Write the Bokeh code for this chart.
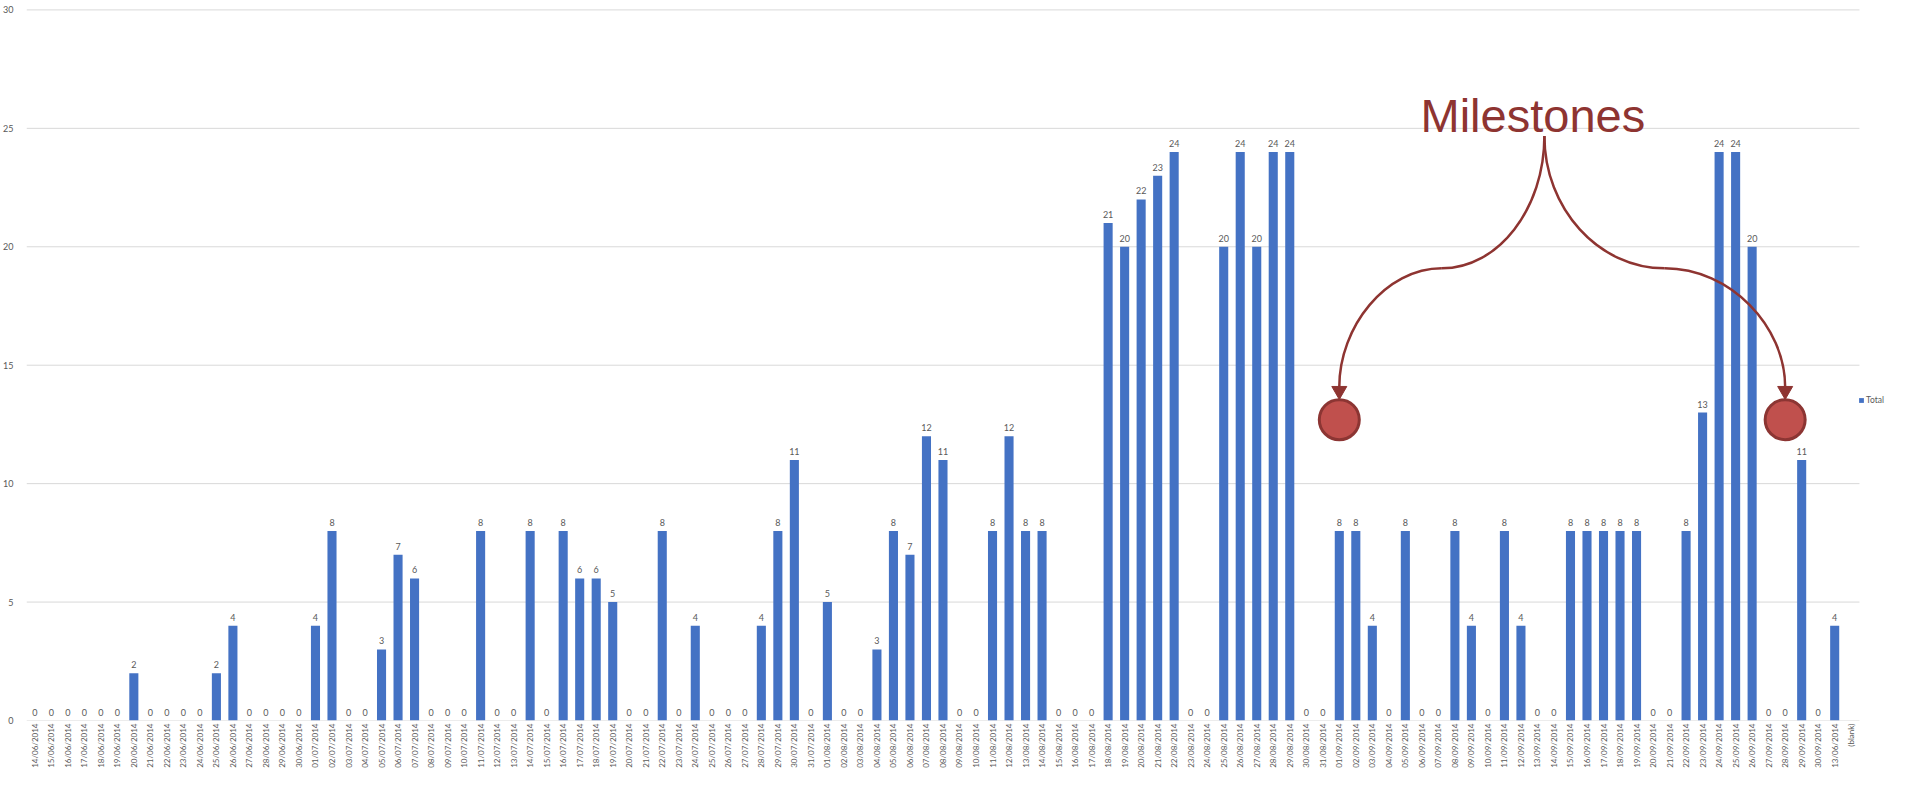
import math
from bokeh.plotting import figure
from bokeh.models import (ColumnDataSource, LabelSet, Label, Legend, LegendItem,
                          FixedTicker, Range1d)
from bokeh.embed import file_html
from bokeh.resources import INLINE
from bokeh.core.properties import value

# ---------------- data ----------------
june_dates = ["14/06/2014", "15/06/2014", "16/06/2014", "17/06/2014", "18/06/2014", "19/06/2014",
              "20/06/2014", "21/06/2014", "22/06/2014", "23/06/2014", "24/06/2014", "25/06/2014",
              "26/06/2014", "27/06/2014", "28/06/2014", "29/06/2014", "30/06/2014"]
june_totals = [0, 0, 0, 0, 0, 0, 2, 0, 0, 0, 0, 2, 4, 0, 0, 0, 0]

july_dates = ["01/07/2014", "02/07/2014", "03/07/2014", "04/07/2014", "05/07/2014", "06/07/2014",
              "07/07/2014", "08/07/2014", "09/07/2014", "10/07/2014", "11/07/2014", "12/07/2014",
              "13/07/2014", "14/07/2014", "15/07/2014", "16/07/2014", "17/07/2014", "18/07/2014",
              "19/07/2014", "20/07/2014", "21/07/2014", "22/07/2014", "23/07/2014", "24/07/2014",
              "25/07/2014", "26/07/2014", "27/07/2014", "28/07/2014", "29/07/2014", "30/07/2014",
              "31/07/2014"]
july_totals = [4, 8, 0, 0, 3, 7, 6, 0, 0, 0, 8, 0, 0, 8, 0, 8, 6, 6, 5, 0, 0, 8, 0, 4, 0, 0, 0,
               4, 8, 11, 0]

aug_dates = ["01/08/2014", "02/08/2014", "03/08/2014", "04/08/2014", "05/08/2014", "06/08/2014",
             "07/08/2014", "08/08/2014", "09/08/2014", "10/08/2014", "11/08/2014", "12/08/2014",
             "13/08/2014", "14/08/2014", "15/08/2014", "16/08/2014", "17/08/2014", "18/08/2014",
             "19/08/2014", "20/08/2014", "21/08/2014", "22/08/2014", "23/08/2014", "24/08/2014",
             "25/08/2014", "26/08/2014", "27/08/2014", "28/08/2014", "29/08/2014", "30/08/2014",
             "31/08/2014"]
aug_totals = [5, 0, 0, 3, 8, 7, 12, 11, 0, 0, 8, 12, 8, 8, 0, 0, 0, 21, 20, 22, 23, 24, 0, 0,
              20, 24, 20, 24, 24, 0, 0]

sep_dates = ["01/09/2014", "02/09/2014", "03/09/2014", "04/09/2014", "05/09/2014", "06/09/2014",
             "07/09/2014", "08/09/2014", "09/09/2014", "10/09/2014", "11/09/2014", "12/09/2014",
             "13/09/2014", "14/09/2014", "15/09/2014", "16/09/2014", "17/09/2014", "18/09/2014",
             "19/09/2014", "20/09/2014", "21/09/2014", "22/09/2014", "23/09/2014", "24/09/2014",
             "25/09/2014", "26/09/2014", "27/09/2014", "28/09/2014", "29/09/2014", "30/09/2014"]
sep_totals = [8, 8, 4, 0, 8, 0, 0, 8, 4, 0, 8, 4, 0, 0, 8, 8, 8, 8, 8, 0, 0, 8, 13, 24, 24, 20,
              0, 0, 11, 0]

extra_dates = ["13/06/2014"]
extra_totals = [4]
blank_label = "(blank)"

y_ticks = [0, 5, 10, 15, 20, 25, 30]
series_name = "Total"
milestone_text = "Milestones"
milestone_dates = ["01/09/2014", "28/09/2014"]

dates = june_dates + july_dates + aug_dates + sep_dates + extra_dates
totals = june_totals + july_totals + aug_totals + sep_totals + extra_totals
categories = dates + [blank_label]

# ---------------- figure ----------------
BAR = "#4472C4"
RED = "#8E3431"
GRAY = "#595959"

W, H = 1891, 770
BL, BR, BT = 19, 1, 8
frame_w = W - BL - BR - 9            # effective frame width after layout
cat_px = 1831.0 / 111                # pixel width of one category slot
n_cat = len(categories)
x_end = frame_w / cat_px             # extra room at the right for the legend

slot = {c: i + 0.5 for i, c in enumerate(categories)}   # position of each category

p = figure(width=W, height=H, output_backend="svg", toolbar_location=None,
           x_range=Range1d(0, x_end), y_range=Range1d(0, 30.06),
           min_border_left=BL, min_border_top=BT,
           min_border_right=BR, min_border_bottom=40)
p.outline_line_color = None
p.background_fill_color = "white"
p.border_fill_color = "white"

# horizontal gridlines only across the category area
p.xgrid.grid_line_color = None
p.ygrid.grid_line_color = None
p.segment(x0=[0] * len(y_ticks), x1=[n_cat] * len(y_ticks), y0=y_ticks, y1=y_ticks,
          line_color="#d9d9d9", line_width=1)

src = ColumnDataSource(dict(x=[slot[d] for d in dates], top=totals,
                            lab=[str(v) for v in totals]))
bars = p.vbar(x="x", top="top", width=0.55, source=src, fill_color=BAR, line_color=None)

labels = LabelSet(x="x", y="top", text="lab", source=src, y_offset=5, text_align="center",
                  text_baseline="alphabetic", text_font=value("Lato"),
                  text_font_size=value("9px"), text_color=value(GRAY))
p.add_layout(labels)

p.yaxis.ticker = FixedTicker(ticks=y_ticks)
p.yaxis.axis_line_color = None
p.yaxis.major_tick_line_color = None
p.yaxis.minor_tick_line_color = None
p.yaxis.major_label_text_font = "Lato"
p.yaxis.major_label_text_font_size = "9px"
p.yaxis.major_label_text_color = GRAY
p.yaxis.major_label_standoff = 7

p.xaxis.ticker = FixedTicker(ticks=[slot[c] for c in categories], minor_ticks=[])
p.xaxis.major_label_overrides = {slot[c]: c for c in categories}
p.xaxis.axis_line_color = None
p.xaxis.major_tick_line_color = None
p.xaxis.minor_tick_line_color = None
p.xaxis.major_tick_out = 0
p.xaxis.major_tick_in = 0
p.xaxis.major_label_orientation = math.pi / 2
p.xaxis.major_label_text_font = "Lato"
p.xaxis.major_label_text_font_size = "8px"
p.xaxis.major_label_text_color = GRAY
p.xaxis.major_label_standoff = 3

legend = Legend(items=[LegendItem(label=series_name, renderers=[bars])],
                location=(1832, 315), orientation="vertical", padding=0, margin=0,
                glyph_width=6, glyph_height=6, label_standoff=2,
                label_text_font="Lato", label_text_font_size="8.5px",
                label_text_color=GRAY, border_line_color=None,
                background_fill_alpha=0)
p.add_layout(legend)

# ---------------- milestones annotation ----------------
L = slot[milestone_dates[0]]
R = slot[milestone_dates[1]]
top_x = L + 0.46 * (R - L)
lm = L + 0.23 * (R - L)
rm = L + 0.73 * (R - L)
y_top, y_c1, y_mid, y_c2, y_end = 24.68, 21.61, 19.09, 16.61, 14.09
y_head, y_circ = 13.92, 12.70

curve = dict(line_color=RED, line_width=2.5)
p.bezier(x0=[top_x, lm, top_x, rm], y0=[y_top, y_mid, y_top, y_mid],
         x1=[lm, L, rm, R], y1=[y_mid, y_end, y_mid, y_end],
         cx0=[top_x, lm - 0.55 * (lm - L), top_x, rm + 0.55 * (R - rm)],
         cy0=[y_c1, y_mid, y_c1, y_mid],
         cx1=[lm + 0.55 * (top_x - lm), L, rm - 0.55 * (rm - top_x), R],
         cy1=[y_mid, y_c2, y_mid, y_c2], **curve)
p.scatter(x=[L, R], y=[y_head, y_head], marker="inverted_triangle", size=15,
          fill_color=RED, line_color=RED)
p.scatter(x=[L, R], y=[y_circ, y_circ], marker="circle", size=40,
          fill_color="#C0504D", line_color="#8C3533", line_width=3)

p.add_layout(Label(x=top_x - 0.7, y=25.53, text=milestone_text, text_align="center",
                   text_baseline="alphabetic", text_font="Liberation Sans",
                   text_font_size="47px", text_color=RED))

open("out.html", "w").write(file_html(p, INLINE))
